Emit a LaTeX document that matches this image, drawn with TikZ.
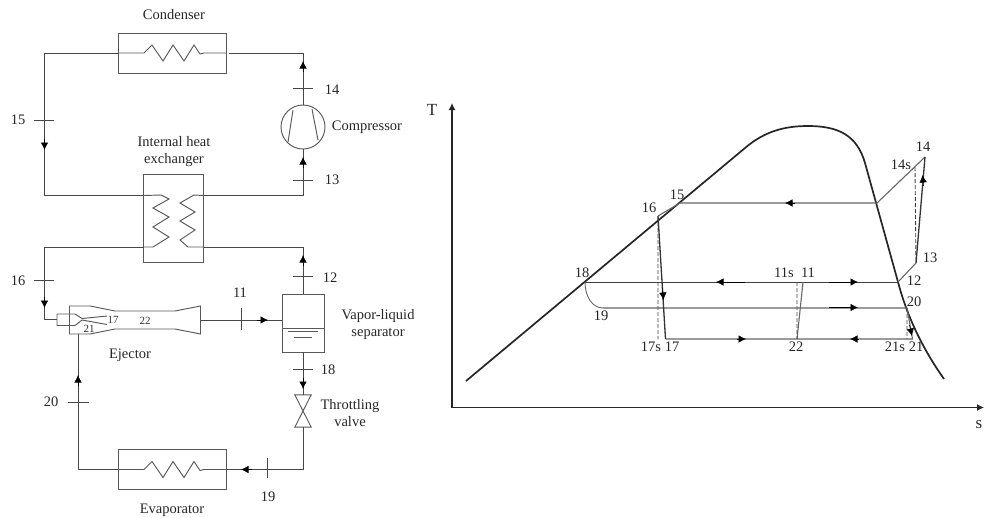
\documentclass[tikz,border=0pt]{standalone}
\usepackage{fontspec}
\setmainfont{Liberation Serif}
\usetikzlibrary{arrows.meta}
\definecolor{pipe}{gray}{0.28}
\tikzset{
  pipeline/.style={draw=pipe,line width=1pt},
  unit/.style={draw=black!65,line width=.95pt},
  cyc/.style={draw=black!60,line width=1.1pt},
  heavy/.style={draw=black!85,line width=1.7pt},
  dsh/.style={draw=black!75,line width=0.9pt,dash pattern=on 4pt off 2pt},
  lab/.style={inner sep=0pt,font=\fontsize{14.5}{16}\selectfont,text=black!85,align=center},
  small/.style={inner sep=0pt,font=\fontsize{11}{12}\selectfont,text=black!80},
  tip/.style={-{Latex[length=7pt,width=7pt]}},
}
\newcommand{\flowarrow}[2]{\draw[black,line width=.6pt,-{Latex[length=7.5pt,width=7.5pt]}] #1 -- #2;}
\begin{document}
\begin{tikzpicture}[x=1pt,y=-1pt]
\useasboundingbox (0,0) rectangle (984,517);
% named coordinates of the refrigerant loop
\coordinate (cL) at (44.5,53); \coordinate (cR) at (303,53);
\coordinate (hxTL) at (44.5,195.5); \coordinate (hxTR) at (303,195.5);
\coordinate (hxBL) at (44.5,247); \coordinate (hxBR) at (303,247);
\coordinate (ejIn) at (44.5,319.5);
\coordinate (evL) at (78,469.5); \coordinate (evR) at (303,469.5);
% condenser
\node[unit,minimum width=108pt,minimum height=40pt,inner sep=0pt] (cond) at (172,53) {};
\node[unit,minimum width=108pt,minimum height=40pt,inner sep=0pt] (evap) at (172,469.5) {};
\foreach \n/\yy in {cond/53,evap/469.5}{
 \draw[unit] (\n.west) -- (144,\yy) -- (152,\yy-8) -- (163,\yy+8) -- (173,\yy-8) -- (184,\yy+8) -- (194,\yy-8) -- (200,\yy+1) -- (204,\yy) -- (\n.east);
}
\draw[pipeline] (cond.west) -- (cL) -- (hxTL) -- (143.5,195.5);
\draw[pipeline] (229,53) -- (cR) -- (303,105);
\draw[pipeline] (203.5,195.5) -- (hxTR) -- (303,149);
% compressor
\node[unit,circle,minimum size=44pt,inner sep=0pt] (comp) at (303,127) {};
\draw[unit] (293,110) -- (288,142) (312,109) -- (318,140);
% HX
\node[unit,minimum width=60pt,minimum height=88pt,inner sep=0pt] (hx) at (173.5,218) {};
\draw[unit] (143.5,195.5) -- (161,195) -- (169,199) -- (153,208) -- (169,217) -- (153,227) -- (169,237) -- (153,247) -- (143.5,247);
\draw[unit] (203.5,195.5) -- (194,195) -- (180,203) -- (195,212) -- (180,221) -- (195,230) -- (180,240) -- (188,247) -- (203.5,247);
\draw[pipeline] (143.5,247) -- (hxBL) -- (ejIn) -- (57,319.5);
% separator
\node[unit,minimum width=42pt,minimum height=58pt,inner sep=0pt] (sep) at (303,323) {};
\draw[unit] (282,328) -- (324,328);
\draw[unit,line width=.9pt] (288,331.5) -- (318,331.5) (294,337) -- (312,337);
\draw[pipeline] (203.5,247) -- (hxBR) -- (sep.north);
% valve
\node[inner sep=0pt,minimum width=16pt,minimum height=32pt] (valve) at (303,411) {};
\draw[unit] (valve.north west) -- (valve.north east) -- (valve.south west) -- (valve.south east) -- cycle;
\draw[pipeline] (sep.south) -- (valve.north);
\draw[pipeline] (valve.south) -- (evR) -- (evap.east);
\draw[pipeline] (evap.west) -- (evL) -- (78,334);
% ejector
\node[inner sep=0pt,minimum width=1pt,minimum height=28pt] (ejOut) at (200.5,320) {};
\draw[unit] (69.5,306) -- (90,306) -- (115,311) -- (175,311) -- (200.5,306) -- (200.5,334) -- (175,329) -- (115,329) -- (90,334) -- (69.5,334) -- cycle;
\draw[unit] (107,316) -- (82,318.5) -- (75,314) -- (57,314) -- (57,325.5) -- (75,325.5) -- (82,320) -- (107,324.5);
\draw[pipeline] (ejOut.east) -- (sep.west |- ejOut.east);
% ticks
\draw[pipeline] (293,88) -- (313,88) (293,180) -- (313,180) (293,276) -- (313,276) (293,369) -- (313,369);
\draw[pipeline] (34,120.5) -- (54,120.5) (34,280.5) -- (54,280.5) (68,402) -- (89,402);
\draw[pipeline] (241,308) -- (241,330) (267,458) -- (267,478);
% arrowheads on pipes
\flowarrow{(303,72)}{(303,61)}
\flowarrow{(303,168)}{(303,157)}
\flowarrow{(303,266)}{(303,255)}
\flowarrow{(44.5,139)}{(44.5,150)}
\flowarrow{(44.5,297)}{(44.5,308)}
\flowarrow{(303,378)}{(303,389)}
\flowarrow{(78,386)}{(78,375)}
\flowarrow{(257,320)}{(268,320)}
\flowarrow{(252,469.5)}{(241,469.5)}
% left labels
\node[lab] (tCond) at (174,15) {Condenser};
\node[lab] (t14) at (332,90) {14};
\node[lab] (tComp) at (367,127) {Compressor};
\node[lab] (t13) at (332,180) {13};
\node[lab] (t15) at (18,120) {15};
\node[lab] (tHx) at (174,151.5) {Internal heat\\[1pt]exchanger};
\node[lab] (t12) at (330,278) {12};
\node[lab] (t16) at (18,280.5) {16};
\node[lab] (t11) at (240,293) {11};
\node[lab] (tSep) at (378,324.5) {Vapor-liquid\\[1pt]separator};
\node[lab] (t18) at (328,370) {18};
\node[lab] (tEj) at (130,355) {Ejector};
\node[lab] (tVal) at (350,413) {Throttling\\[1pt]valve};
\node[lab] (t20) at (51,402) {20};
\node[lab] (t19) at (268,497) {19};
\node[lab] (tEv) at (172,510) {Evaporator};
\node[small] (s17) at (113,320) {17};
\node[small] (s21) at (89,329) {21};
\node[small] (s22) at (145,321) {22};
% T-s axes
\coordinate (O) at (452,407.5);
\coordinate (Tend) at (452,103);
\coordinate (Send) at (984,407.5);
\draw[heavy,line width=1.2pt,tip] (O) -- (Tend);
\draw[heavy,line width=1.2pt,tip] (O) -- (Send);
\node[lab,font=\fontsize{17}{18}\selectfont] (tT) at (432,110) {T};
\node[lab,font=\fontsize{17}{18}\selectfont] (tS) at (979,425) {s};
% saturation dome
\draw[heavy] (466,381) -- (745,148) .. controls (765,131) and (785,126) .. (808,126) .. controls (838,126) and (857,135) .. (865,163) -- (898,282) .. controls (908,320) and (925,352) .. (944,379);
% cycle
\coordinate (p15) at (680,203); \coordinate (p15r) at (877,203);
\coordinate (p14) at (925,157); \coordinate (p14s) at (915,167);
\coordinate (p13) at (916,263); \coordinate (p12) at (898,282);
\coordinate (p16) at (658,216); \coordinate (p17s) at (658,339); \coordinate (p17) at (665.5,339);
\coordinate (p18) at (585,282); \coordinate (p19) at (603,308); \coordinate (p20) at (907,308);
\coordinate (p11s) at (797,282); \coordinate (p11) at (803,282); \coordinate (p22) at (797,339);
\coordinate (p21s) at (907,339); \coordinate (p21) at (912.5,339);
\draw[cyc] (p15) -- (p15r) -- (p14);
\draw[cyc] (p12) -- (p13);
\draw[cyc] (p16) -- (p15);
\draw[cyc,black!75,line width=.9pt] (p18) -- (p12);
\draw[cyc] (p19) -- (p20) -- (p21) -- (p17);
\draw[cyc,line width=.9pt] (p18) .. controls (585,296) and (592,308) .. (p19);
\draw[cyc] (p11) -- (p22);
\draw[cyc,black!80,line width=1.3pt] (p13) -- (p14);
\draw[cyc,black!80,line width=1.3pt] (p16) -- (p17);
\draw[dsh] (p14s) -- (p13) (p16) -- (p17s) (p11s) -- (p22) (p20) -- (p21s);
\flowarrow{(745,282)}{(716,282)}
\flowarrow{(829,282)}{(858,282)}
\flowarrow{(829,307.5)}{(858,307.5)}
\flowarrow{(795,203)}{(785,203)}
\flowarrow{(737,339)}{(746,339)}
\flowarrow{(859,339)}{(850,339)}
\flowarrow{(923.5,186)}{(922.5,175)}
\flowarrow{(662.5,288)}{(663.5,300)}
\flowarrow{(909.5,325)}{(912,336)}
% right labels
\node[lab] (r18) at (582,273) {18};
\node[lab] (r19) at (601,316) {19};
\node[lab] (r16) at (649,208) {16};
\node[lab] (r15) at (677,195) {15};
\node[lab] (r14) at (923,147) {14};
\node[lab] (r14s) at (901,165) {14s};
\node[lab] (r13) at (930,258) {13};
\node[lab] (r12) at (914,281) {12};
\node[lab] (r20) at (914,302) {20};
\node[lab] (r11s) at (784,273) {11s};
\node[lab] (r11) at (808,273) {11};
\node[lab] (r17s) at (651,347) {17s};
\node[lab] (r17) at (672,347) {17};
\node[lab] (r22) at (796,347) {22};
\node[lab] (r21s) at (895,347) {21s};
\node[lab] (r21) at (916,347) {21};
\end{tikzpicture}
\end{document}
